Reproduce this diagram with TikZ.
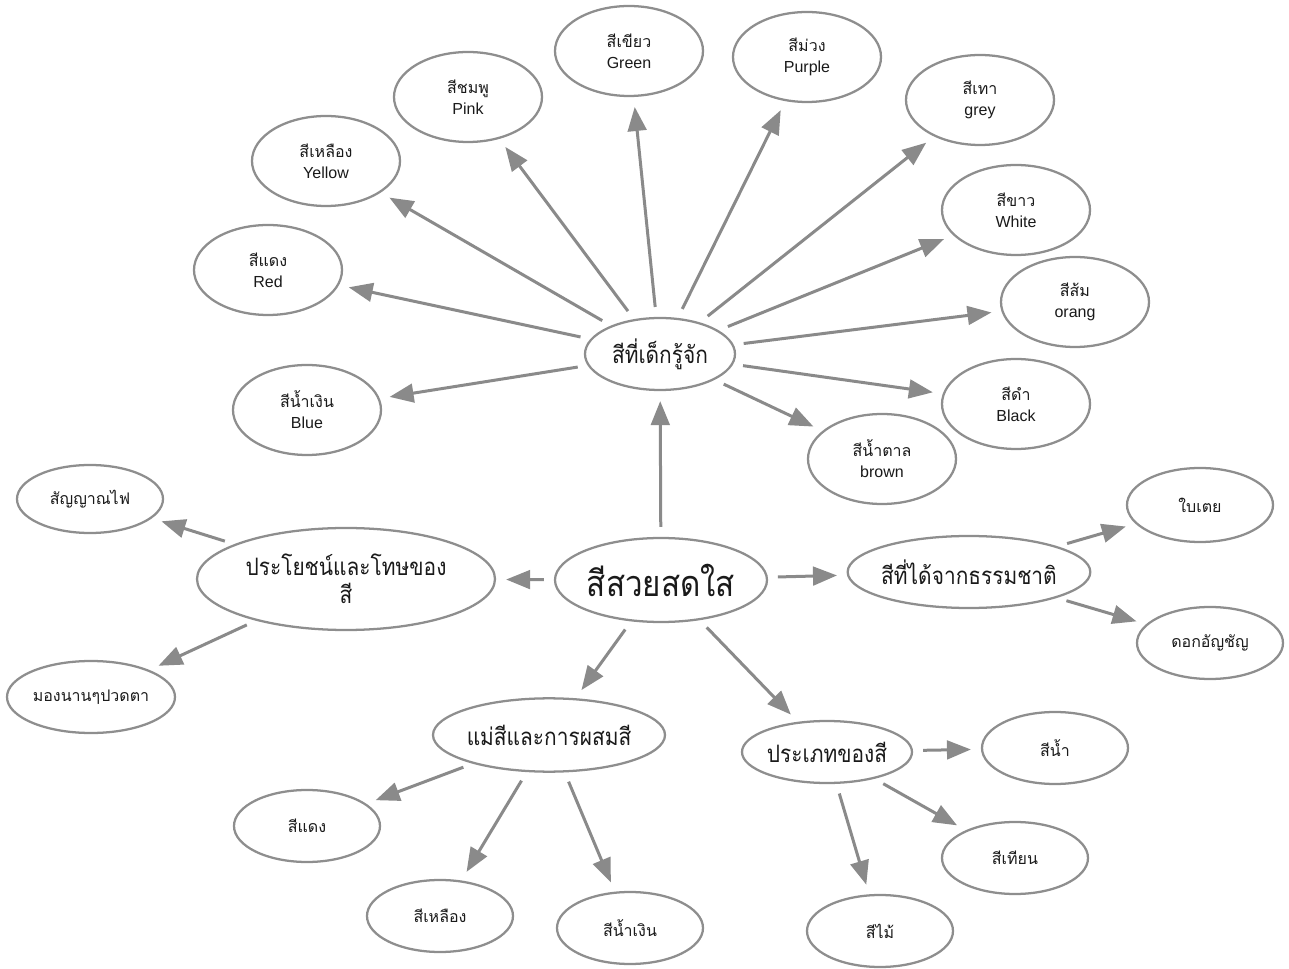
\documentclass[tikz,border=0pt]{standalone}
\usepackage{fontspec}
\setmainfont{Liberation Sans}
\newfontfamily\thaifont[Script=Thai]{Loma}
\newfontfamily\thaicond[Script=Thai,FakeStretch=0.87]{Loma}
\usetikzlibrary{shapes.geometric,arrows.meta}
\definecolor{linegray}{HTML}{8E8E8E}
\definecolor{arrgray}{HTML}{8A8A8A}
\definecolor{txt}{HTML}{1A1A1A}
\newcommand{\tht}[1]{{\thaifont #1}}
\newcommand{\thc}[1]{{\thaicond #1}}
\newcommand{\zw}[1]{\makebox[0pt]{#1}}
\newcommand{\twoline}[2]{\zw{\tht{#1}}\\\zw{#2}}
\begin{document}
\begin{tikzpicture}[x=0.75pt,y=-0.75pt,
  bub/.style={ellipse,draw=linegray,line width=1.7pt,fill=white,inner sep=0pt,text=txt,align=center},
  leaf/.style={bub,minimum width=111pt,minimum height=67.5pt,font=\fontsize{12}{15.75}\selectfont},
  leafone/.style={bub,minimum width=109.5pt,minimum height=54pt,font=\fontsize{12}{15.75}\selectfont},
  mid/.style={bub,font=\fontsize{18}{21}\selectfont},
  con/.style={draw=arrgray,line width=2.25pt,-{Triangle[length=18pt,width=14pt]},shorten <=7.5pt,shorten >=7.5pt}]
\useasboundingbox (0,0) rectangle (1289,969);

% centre
\node[bub,minimum width=159pt,minimum height=63pt,font=\fontsize{27}{30}\selectfont] (main) at (661,580) {\zw{\thc{สีสวยสดใส}}};
\node[mid,minimum width=112.5pt,minimum height=54pt] (kid) at (660,354) {\zw{\thc{สีที่เด็กรู้จัก}}};
\node[mid,minimum width=223.5pt,minimum height=76.5pt] (ben) at (346,579) {\zw{\thc{ประโยชน์และโทษของ}}\\\zw{\thc{สี}}};
\node[mid,minimum width=182pt,minimum height=54pt] (nat) at (969,572) {\zw{\thc{สีที่ได้จากธรรมชาติ}}};
\node[mid,minimum width=174pt,minimum height=55pt] (mix) at (549,735) {\zw{\thc{แม่สีและการผสมสี}}};
\node[mid,minimum width=127.5pt,minimum height=46.5pt] (type) at (827,752) {\zw{\thc{ประเภทของสี}}};

% known colours
\node[leaf] (blue) at (307,410) {\twoline{สีน้ำเงิน}{Blue}};
\node[leaf] (red) at (268,270) {\twoline{สีแดง}{Red}};
\node[leaf] (yellow) at (326,161) {\twoline{สีเหลือง}{Yellow}};
\node[leaf] (pink) at (468,97) {\twoline{สีชมพู}{Pink}};
\node[leaf] (green) at (629,51) {\twoline{สีเขียว}{Green}};
\node[leaf] (purple) at (807,57) {\twoline{สีม่วง}{Purple}};
\node[leaf] (grey) at (980,100) {\twoline{สีเทา}{grey}};
\node[leaf] (white) at (1016,210) {\twoline{สีขาว}{White}};
\node[leaf] (orang) at (1075,302) {\twoline{สีส้ม}{orang}};
\node[leaf] (black) at (1016,404) {\twoline{สีดำ}{Black}};
\node[leaf] (brown) at (882,459) {\twoline{สีน้ำตาล}{brown}};

% benefits
\node[leafone,minimum height=51pt] (sig) at (90,499) {\zw{\tht{สัญญาณไฟ}}};
\node[leafone,minimum width=126pt] (eye) at (91,697) {\zw{\tht{มองนานๆปวดตา}}};

% nature
\node[leafone,minimum height=55.5pt] (bai) at (1200,505) {\zw{\tht{ใบเตย}}};
\node[leafone] (dok) at (1210,643) {\zw{\tht{ดอกอัญชัญ}}};

% primaries
\node[leafone] (r2) at (307,826) {\zw{\tht{สีแดง}}};
\node[leafone] (y2) at (440,916) {\zw{\tht{สีเหลือง}}};
\node[leafone] (b2) at (630,928) {\zw{\tht{สีน้ำเงิน}}};

% types
\node[leafone] (water) at (1055,748) {\zw{\tht{สีน้ำ}}};
\node[leafone] (crayon) at (1015,858) {\zw{\tht{สีเทียน}}};
\node[leafone] (wood) at (880,931) {\zw{\tht{สีไม้}}};

% connectors
\foreach \t in {blue,red,yellow,pink,green,purple,grey,white,orang,black,brown}
  \draw[con] (kid) -- (\t);
\foreach \t in {kid,ben,nat,mix,type}
  \draw[con] (main) -- (\t);
\draw[con] (ben) -- (sig);
\draw[con] (ben) -- (eye);
\draw[con] (nat) -- (bai);
\draw[con] (nat) -- (dok);
\foreach \t in {r2,y2,b2}
  \draw[con] (mix) -- (\t);
\foreach \t in {water,crayon,wood}
  \draw[con] (type) -- (\t);
\end{tikzpicture}
\end{document}
